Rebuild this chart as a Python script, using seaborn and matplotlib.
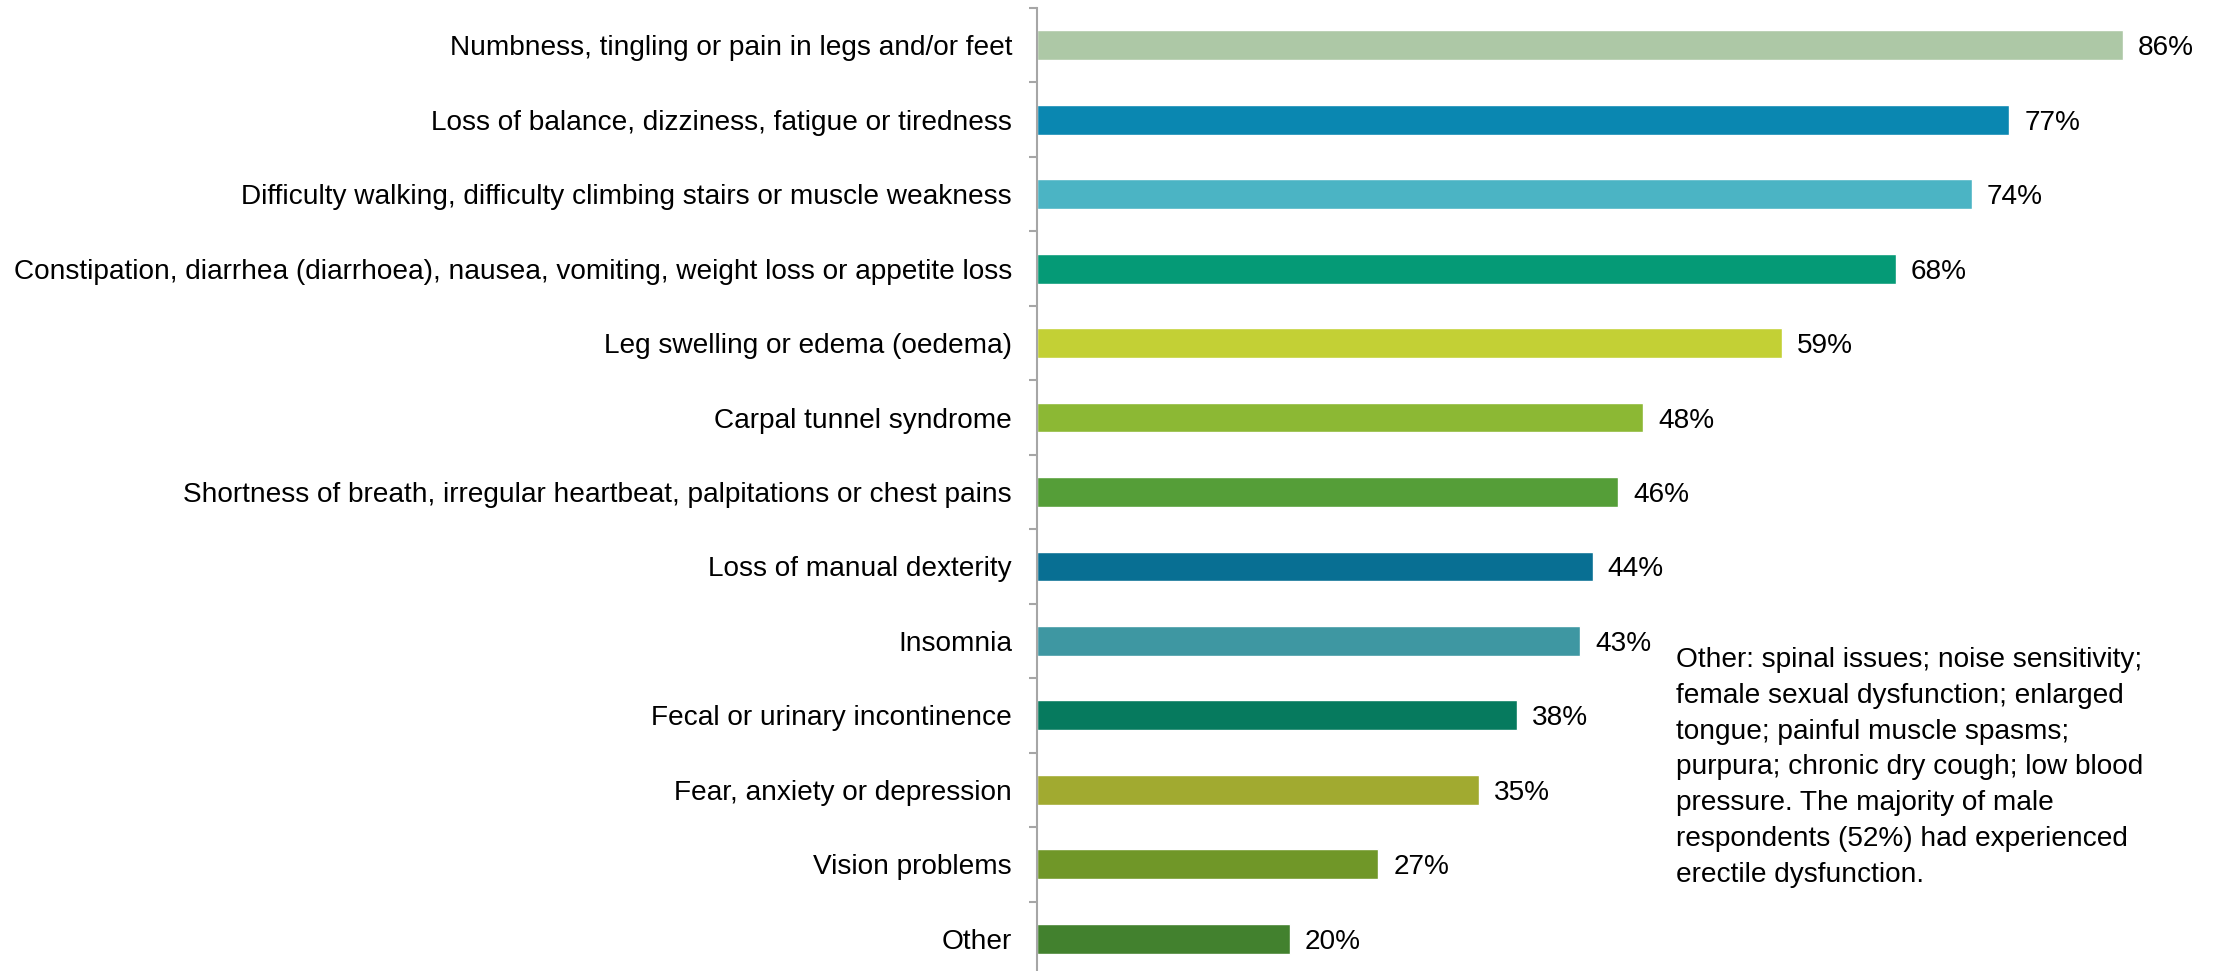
import matplotlib
matplotlib.use("Agg")
import numpy as np
import pandas as pd
import matplotlib.pyplot as plt
import seaborn as sns

# Data
symptoms = [
    "Numbness, tingling or pain in legs and/or feet",
    "Loss of balance, dizziness, fatigue or tiredness",
    "Difficulty walking, difficulty climbing stairs or muscle weakness",
    "Constipation, diarrhea (diarrhoea), nausea, vomiting, weight loss or appetite loss",
    "Leg swelling or edema (oedema)",
    "Carpal tunnel syndrome",
    "Shortness of breath, irregular heartbeat, palpitations or chest pains",
    "Loss of manual dexterity",
    "Insomnia",
    "Fecal or urinary incontinence",
    "Fear, anxiety or depression",
    "Vision problems",
    "Other",
]
percent = [86, 77, 74, 68, 59, 48, 46, 44, 43, 38, 35, 27, 20]
bar_colors = ["#ADC8A6", "#0A87B1", "#4BB4C4", "#059A76", "#C3D035", "#8CB834",
              "#559E38", "#086F93", "#3E97A2", "#067A5E", "#A1AA30", "#709728", "#42812E"]
note = ("Other: spinal issues; noise sensitivity;\n"
        "female sexual dysfunction; enlarged\n"
        "tongue; painful muscle spasms;\n"
        "purpura; chronic dry cough; low blood\n"
        "pressure. The majority of male\n"
        "respondents (52%) had experienced\n"
        "erectile dysfunction.")

df = pd.DataFrame({"symptom": symptoms, "percent": percent})

sns.set_style("white")
plt.rcParams["font.family"] = ["Liberation Sans", "DejaVu Sans"]
fs = 20.2

fig = plt.figure(figsize=(22.14, 9.71), dpi=100)
ax = fig.add_axes([1037 / 2214, 1 - 976 / 971, 1 - 1037 / 2214, 968 / 971])

sns.barplot(data=df, x="percent", y="symptom", hue="symptom", palette=bar_colors,
            orient="h", width=0.4, legend=False, ax=ax, saturation=1)

ax.set_xlim(0, 93.2)
ax.set_ylim(len(symptoms) - 0.5, -0.5)
ax.set_xlabel("")
ax.set_ylabel("")
ax.set_xticks([])

for s in ["top", "right", "bottom"]:
    ax.spines[s].set_visible(False)
ax.spines["left"].set_color("#a6a6a6")
ax.spines["left"].set_linewidth(1.5)

# labels sit at bar centres, tick marks sit between categories
ax.tick_params(axis="y", which="major", left=False, length=0, pad=18,
               labelsize=fs, labelcolor="black")
ax.set_yticks(np.arange(len(symptoms) + 1) - 0.5, minor=True)
ax.tick_params(axis="y", which="minor", left=True, length=6, width=1.5,
               color="#a6a6a6", direction="out")

for i, v in enumerate(percent):
    ax.text(v + 1.2, i, f"{v}%", va="center_baseline", ha="left", fontsize=fs, color="black")

fig.text(1676 / 2214, 1 - 647 / 971, note, ha="left", va="top", fontsize=fs,
         color="black", linespacing=1.49)

fig.savefig("out.png", dpi=100)
